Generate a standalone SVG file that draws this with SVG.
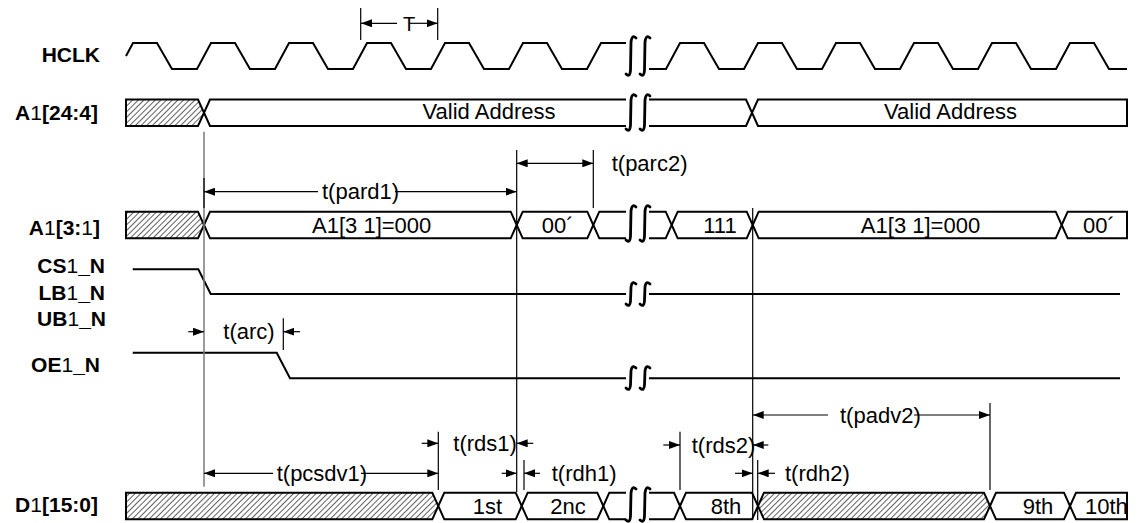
<svg xmlns="http://www.w3.org/2000/svg" width="1139" height="523" viewBox="0 0 1139 523">
<style>
.sig{fill:none;stroke:#000;stroke-width:2;stroke-linejoin:miter}
.bus{fill:#fff;stroke:#000;stroke-width:2;stroke-linejoin:miter}
.open{fill:none;stroke:#000;stroke-width:2;stroke-linejoin:miter}
.hat{fill:url(#hatch);stroke:#000;stroke-width:2;stroke-linejoin:miter}
.brk{fill:none;stroke:#000;stroke-width:2.8;stroke-linecap:round}
.dim{fill:none;stroke:#000;stroke-width:1.2}
.arr{fill:none;stroke:#000;stroke-width:1.2;marker-end:url(#ah)}
.arr2{fill:none;stroke:#000;stroke-width:1.2;marker-start:url(#ah);marker-end:url(#ah)}
.arrs{fill:none;stroke:#000;stroke-width:1.2;marker-start:url(#ah)}
.ref{stroke:#7a7a7a;stroke-width:1.5}
.lbl{font-family:"Liberation Sans",Arial,sans-serif;font-size:21px;font-weight:bold;text-anchor:end;fill:#000}
.thin{font-weight:normal}
.txt{font-family:"Liberation Sans",Arial,sans-serif;font-size:22px;fill:#000}
.mid{text-anchor:middle}
</style>
<defs>
<pattern id="hatch" width="4" height="4" patternUnits="userSpaceOnUse" patternTransform="rotate(45)">
<rect width="4" height="4" fill="#fff"/>
<line x1="0" y1="0" x2="0" y2="4" stroke="#444" stroke-width="1.7"/>
</pattern>
<marker id="ah" viewBox="0 0 11 8" refX="11" refY="4" markerWidth="11" markerHeight="8" markerUnits="userSpaceOnUse" orient="auto-start-reverse">
<path d="M0,0 L11,4 L0,8 z" fill="#000"/>
</marker>
</defs>
<rect width="1139" height="523" fill="#fff"/>

<g id="HCLK">
<text class="lbl" x="100" y="61.5">HCLK</text>
<path class="sig" d="M126,56 L133,43 L157,43 L172,69 L197,69 L211,43 L235,43 L250,69 L275,69 L289,43 L313,43 L328,69 L353,69 L367,43 L391,43 L406,69 L431,69 L445,43 L469,43 L484,69 L509,69 L523,43 L547,43 L562,69 L587,69 L601,43 L626,43"/>
<path class="sig" d="M649,69 L666,69 L680,43 L704,43 L719,69 L744,69 L758,43 L782,43 L797,69 L822,69 L836,43 L860,43 L875,69 L900,69 L914,43 L938,43 L953,69 L978,69 L992,43 L1016,43 L1031,69 L1056,69 L1070,43 L1094,43 L1109,69 L1127,69"/>
<path class="brk" d="M636,38 Q632,34 631,42 L630.5,70 Q630,78 626,74 M650,38 Q646,34 645,42 L644.5,70 Q644,78 640,74"/>
</g>

<g id="A1_24_4">
<text class="lbl" x="98" y="120">A<tspan class="thin">1</tspan>[24:4]</text>
<path class="hat" d="M126,99.5 L198,99.5 L204,112.75 L198,126 L126,126 Z"/>
<path class="open" d="M626,99.5 L210,99.5 L204,112.75 L210,126 L626,126"/>
<path class="open" d="M649,99.5 L746,99.5 L752,112.75 L746,126 L649,126"/>
<path class="bus" d="M752,112.75 L758,99.5 L1127,99.5 L1127,126 L758,126 Z"/>
<text class="txt mid" x="489" y="119">Valid Address</text>
<text class="txt mid" x="950.5" y="119">Valid Address</text>
<path class="brk" d="M636,96 Q632,92 631,100 L630.5,125 Q630,133 626,129 M650,96 Q646,92 645,100 L644.5,125 Q644,133 640,129"/>
</g>

<g id="A1_3_1">
<text class="lbl" x="100" y="235">A<tspan class="thin">1</tspan>[3:<tspan class="thin">1</tspan>]</text>
<path class="hat" d="M126,211.7 L198,211.7 L204,225 L198,238.3 L126,238.3 Z"/>
<path class="bus" d="M204,225 L210,211.7 L510.7,211.7 L516.7,225 L510.7,238.3 L210,238.3 Z"/>
<path class="bus" d="M516.7,225 L522.7,211.7 L587.3,211.7 L593.3,225 L587.3,238.3 L522.7,238.3 Z"/>
<path class="open" d="M626,211.7 L599.3,211.7 L593.3,225 L599.3,238.3 L626,238.3"/>
<path class="open" d="M649,211.7 L665.7,211.7 L671.7,225 L665.7,238.3 L649,238.3"/>
<path class="bus" d="M671.7,225 L677.7,211.7 L746.7,211.7 L752.7,225 L746.7,238.3 L677.7,238.3 Z"/>
<path class="bus" d="M752.7,225 L758.7,211.7 L1055.7,211.7 L1061.7,225 L1055.7,238.3 L758.7,238.3 Z"/>
<path class="bus" d="M1061.7,225 L1067.7,211.7 L1127,211.7 L1127,238.3 L1067.7,238.3 Z"/>
<text class="txt mid" x="371.7" y="232.5">A1[3 1]=000</text>
<text class="txt" x="541.7" y="232.5">00´</text>
<text class="txt mid" x="720" y="232.5">111</text>
<text class="txt mid" x="920.5" y="232.5">A1[3 1]=000</text>
<text class="txt" x="1083" y="232.5">00´</text>
<path class="brk" d="M636,207 Q632,203 631,211 L630.5,236 Q630,244 626,240 M650,207 Q646,203 645,211 L644.5,236 Q644,244 640,240"/>
</g>

<g id="CS1_N">
<text class="lbl" x="105" y="273">CS<tspan class="thin">1</tspan>_N</text>
<text class="lbl" x="105" y="300">LB<tspan class="thin">1</tspan>_N</text>
<text class="lbl" x="106" y="326">UB<tspan class="thin">1</tspan>_N</text>
<path class="sig" d="M132.7,269.3 L198.3,269.3 L210.7,294 L626,294 M649,294 L1120,294"/>
<path class="brk" d="M636,284 Q632,280 631,287 L630.5,301 Q630,308 626,304 M650,284 Q646,280 645,287 L644.5,301 Q644,308 640,304"/>
</g>

<g id="OE1_N">
<text class="lbl" x="100" y="372">OE<tspan class="thin">1</tspan>_N</text>
<path class="sig" d="M132.7,352.7 L276.7,352.7 L290,378.3 L626,378.3 M649,378.3 L1120,378.3"/>
<path class="brk" d="M636,368 Q632,364 631,371 L630.5,385 Q630,392 626,388 M650,368 Q646,364 645,371 L644.5,385 Q644,392 640,388"/>
</g>

<g id="D1_15_0">
<text class="lbl" x="98" y="512">D<tspan class="thin">1</tspan>[15:0]</text>
<path class="hat" d="M126,492.7 L432.3,492.7 L438.3,506 L432.3,519.3 L126,519.3 Z"/>
<path class="bus" d="M438.3,506 L444.3,492.7 L515.7,492.7 L521.7,506 L515.7,519.3 L444.3,519.3 Z"/>
<path class="bus" d="M521.7,506 L527.7,492.7 L597.3,492.7 L603.3,506 L597.3,519.3 L527.7,519.3 Z"/>
<path class="open" d="M626,492.7 L609.3,492.7 L603.3,506 L609.3,519.3 L626,519.3"/>
<path class="open" d="M649,492.7 L674,492.7 L680,506 L674,519.3 L649,519.3"/>
<path class="bus" d="M680,506 L686,492.7 L752,492.7 L758,506 L752,519.3 L686,519.3 Z"/>
<path class="hat" d="M758,506 L764,492.7 L984,492.7 L990,506 L984,519.3 L764,519.3 Z"/>
<path class="bus" d="M990,506 L996,492.7 L1064,492.7 L1070,506 L1064,519.3 L996,519.3 Z"/>
<path class="bus" d="M1070,506 L1076,492.7 L1127,492.7 L1127,519.3 L1076,519.3 Z"/>
<text class="txt mid" x="487.5" y="513.5">1st</text>
<text class="txt mid" x="568" y="513.5">2nc</text>
<text class="txt mid" x="726" y="513.5">8th</text>
<text class="txt mid" x="1038" y="513.5">9th</text>
<text class="txt" x="1085" y="513.5">10th</text>
<path class="brk" d="M636,489 Q632,485 631,493 L630.5,516 Q630,524 626,520 M650,489 Q646,485 645,493 L644.5,516 Q644,524 640,520"/>
</g>

<g id="connectors">
<line class="ref" x1="204" y1="131.7" x2="204" y2="486.7"/>
<line class="dim" x1="204" y1="178" x2="204" y2="208"/>
<line class="dim" x1="360.7" y1="8" x2="360.7" y2="40"/>
<line class="dim" x1="437.7" y1="8" x2="437.7" y2="40"/>
<line class="dim" x1="516.7" y1="150" x2="516.7" y2="492"/>
<line class="dim" x1="593.3" y1="150" x2="593.3" y2="208"/>
<line class="dim" x1="283.3" y1="318.3" x2="283.3" y2="350"/>
<line class="dim" x1="752.7" y1="208" x2="752.7" y2="520"/>
<line class="dim" x1="757.7" y1="460" x2="757.7" y2="520"/>
<line class="dim" x1="438.3" y1="431.7" x2="438.3" y2="490"/>
<line class="dim" x1="524" y1="460" x2="524" y2="490"/>
<line class="dim" x1="680" y1="431.7" x2="680" y2="490"/>
<line class="dim" x1="990" y1="403" x2="990" y2="490"/>

<path class="arrs" d="M361,23.3 L397,23.3"/>
<path class="arr" d="M410,23.3 L437.7,23.3"/>
<text class="txt mid" x="409" y="30.5" style="font-size:20px">T</text>

<path class="arrs" d="M204,191.7 L318,191.7"/>
<path class="arr" d="M395,191.7 L516.7,191.7"/>
<text class="txt" x="322" y="199">t(pard1)</text>

<path class="arr2" d="M516.7,163.3 L593.3,163.3"/>
<text class="txt" x="611.7" y="170.5">t(parc2)</text>

<path class="arr" d="M188.3,331.7 L204,331.7"/>
<path class="arr" d="M300,331.7 L283.3,331.7"/>
<text class="txt" x="223.3" y="339">t(arc)</text>

<path class="arrs" d="M204,473.3 L273,473.3"/>
<path class="arr" d="M361,473.3 L438.3,473.3"/>
<text class="txt" x="276.7" y="481">t(pcsdv1)</text>

<path class="arr" d="M421.7,443.3 L438.3,443.3"/>
<path class="arr" d="M533.3,443.3 L516.7,443.3"/>
<text class="txt" x="453.3" y="451">t(rds1)</text>

<path class="arr" d="M501.7,473.3 L516.7,473.3"/>
<path class="arr" d="M540,473.3 L524,473.3"/>
<text class="txt" x="551.7" y="481">t(rdh1)</text>

<path class="arr" d="M663.3,445 L680,445"/>
<path class="arr" d="M768.3,445 L752.7,445"/>
<text class="txt" x="691.7" y="452.5">t(rds2)</text>

<path class="arr" d="M735,473.3 L752.7,473.3"/>
<path class="arr" d="M775,473.3 L757.7,473.3"/>
<text class="txt" x="785" y="481">t(rdh2)</text>

<path class="arrs" d="M752.7,415 L828,415"/>
<path class="arr" d="M914,415 L990,415"/>
<text class="txt" x="840" y="422.5">t(padv2)</text>
</g>
</svg>
